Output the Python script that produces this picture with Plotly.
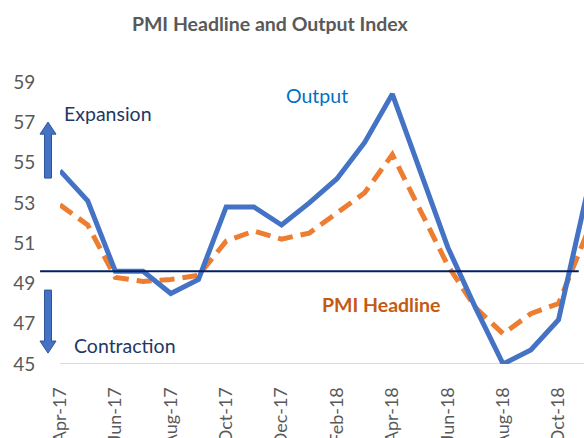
import plotly.graph_objects as go

months = ["Apr-17", "May-17", "Jun-17", "Jul-17", "Aug-17", "Sep-17", "Oct-17", "Nov-17",
          "Dec-17", "Jan-18", "Feb-18", "Mar-18", "Apr-18", "May-18", "Jun-18", "Jul-18",
          "Aug-18", "Sep-18", "Oct-18", "Nov-18"]
output_index = [54.6, 53.1, 49.6, 49.6, 48.5, 49.2, 52.8, 52.8, 51.9, 53.0, 54.2, 56.0,
                58.4, 54.6, 50.8, 47.8, 45.0, 45.7, 47.2, 53.3]
pmi_headline = [52.9, 51.9, 49.3, 49.1, 49.2, 49.4, 51.1, 51.6, 51.2, 51.5, 52.5, 53.5,
                55.4, 52.6, 49.9, 47.8, 46.5, 47.5, 48.0, 51.4]
threshold = 49.6
y_ticks = [45, 47, 49, 51, 53, 55, 57, 59]

xi = list(range(len(months)))
tick_idx = xi[::2]
tick_txt = [months[i] for i in tick_idx]

FONT = "Lato, Open Sans, sans-serif"

fig = go.Figure()
fig.add_trace(go.Scatter(x=xi, y=pmi_headline, mode="lines", name="PMI Headline",
                         line=dict(color="#ED7D31", width=5, dash="15px,8px")))
fig.add_trace(go.Scatter(x=xi, y=output_index, mode="lines", name="Output",
                         line=dict(color="#4472C4", width=5)))

# threshold line
fig.add_shape(type="line", xref="paper", yref="y", x0=-0.038, x1=0.99, y0=threshold, y1=threshold,
              line=dict(color="#002060", width=2))

# block arrows
def arrow_path(cx, ybase, ytip, up=True):
    sw, hw = 0.0067, 0.0153
    hh = 0.6 if up else -0.6
    yh = ytip - hh
    return (f"M {cx-sw},{ybase} L {cx-sw},{yh} L {cx-hw},{yh} L {cx},{ytip} "
            f"L {cx+hw},{yh} L {cx+sw},{yh} L {cx+sw},{ybase} Z")

cx = -0.0229
fig.add_shape(type="path", xref="paper", yref="y", path=arrow_path(cx, 54.23, 57.01, True),
              fillcolor="#4472C4", line=dict(color="#2F5597", width=1))
fig.add_shape(type="path", xref="paper", yref="y", path=arrow_path(cx, 48.67, 45.54, False),
              fillcolor="#4472C4", line=dict(color="#2F5597", width=1))

ann_font = dict(family=FONT, size=19.5)
fig.add_annotation(x=0.07, y=57.46, text="Expansion", showarrow=False, xanchor="left",
                   font=dict(**ann_font, color="#1F3864"))
fig.add_annotation(x=0.43, y=45.94, text="Contraction", showarrow=False, xanchor="left",
                   font=dict(**ann_font, color="#1F3864"))
fig.add_annotation(x=9.28, y=58.35, text="Output", showarrow=False,
                   font=dict(**ann_font, color="#0070C0"))
fig.add_annotation(x=11.59, y=47.93, text="<b>PMI Headline</b>", showarrow=False,
                   font=dict(**ann_font, color="#C55A11"))

fig.update_layout(
    width=584, height=438,
    margin=dict(l=60, r=0, t=82, b=74),
    paper_bgcolor="white", plot_bgcolor="white",
    showlegend=False,
    font=dict(family=FONT, color="#595959"),
    title=dict(text="<b>PMI Headline and Output Index</b>", xref="container", yref="container",
               x=0.462, y=1 - 24 / 438, xanchor="center", yanchor="middle",
               font=dict(family=FONT, size=19.5, color="#595959")),
    xaxis=dict(range=[0, 18.92], tickmode="array", tickvals=tick_idx, ticktext=tick_txt,
               tickangle=-90, tickfont=dict(size=18, color="#595959"),
               showgrid=False, zeroline=False, showline=False, automargin=False,
               ticks="outside", ticklen=15, tickcolor="rgba(0,0,0,0)"),
    yaxis=dict(range=[45, 59], tickmode="array", tickvals=y_ticks,
               tickfont=dict(size=19, color="#595959"),
               showgrid=False, zeroline=False, showline=False, automargin=False,
               ticks="outside", ticklen=20, tickcolor="rgba(0,0,0,0)"),
)
# baseline at 45
fig.add_shape(type="line", xref="paper", yref="y", x0=0, x1=1, y0=45, y1=45,
              line=dict(color="#D9D9D9", width=2), layer="below")

fig.write_html("out.html", config={"displayModeBar": False},
               post_script="document.body.style.margin='0';document.body.style.overflow='hidden';")
